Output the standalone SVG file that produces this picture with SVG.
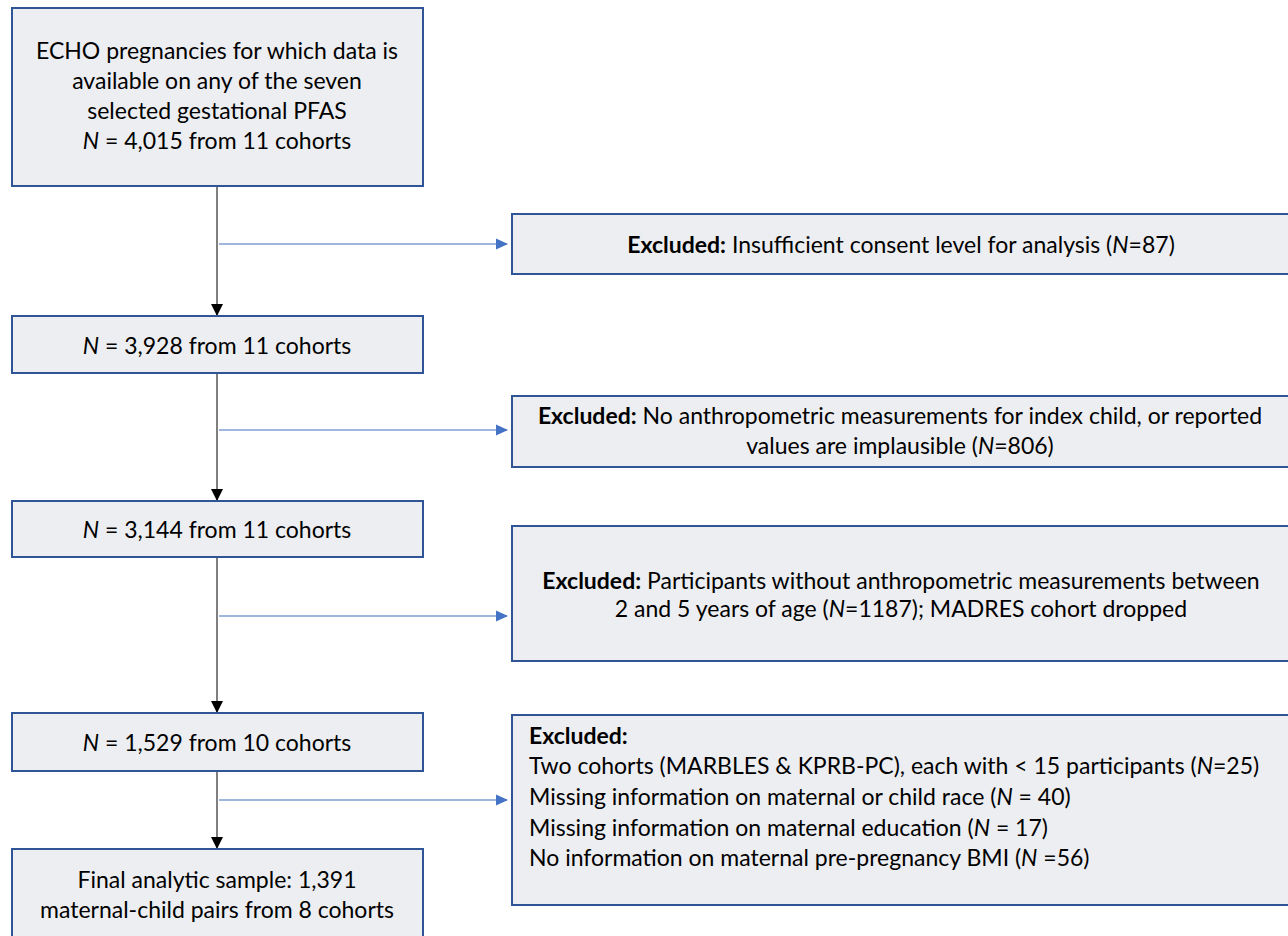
<svg xmlns="http://www.w3.org/2000/svg" width="1288" height="936" viewBox="0 0 1288 936">
<style>
.box{fill:#EDEEF1;stroke:#2F5597;stroke-width:2}
text{font-family:Lato,"Liberation Sans",sans-serif;font-size:23px;fill:#000}
.c{text-anchor:middle}
.b{font-weight:bold}
.v{stroke:#555;stroke-width:1.5;fill:none}
.h{stroke:#7F9FD3;stroke-width:1.5;fill:none}
</style>
<defs>
<marker id="ab" markerWidth="12" markerHeight="12" refX="11" refY="6" orient="auto" markerUnits="userSpaceOnUse"><path d="M0,0 L12,6 L0,12 Z" fill="#000"/></marker>
<marker id="au" markerWidth="12" markerHeight="12" refX="11" refY="6" orient="auto" markerUnits="userSpaceOnUse"><path d="M0,0.5 L12,6 L0,11.5 Z" fill="#4472C4"/></marker>
</defs>
<g id="connectors">
<line class="v" x1="217" y1="187" x2="217" y2="315" marker-end="url(#ab)"/>
<line class="v" x1="217" y1="374" x2="217" y2="500" marker-end="url(#ab)"/>
<line class="v" x1="217" y1="558" x2="217" y2="712" marker-end="url(#ab)"/>
<line class="v" x1="217" y1="772" x2="217" y2="848" marker-end="url(#ab)"/>
<line class="h" x1="219" y1="244" x2="507" y2="244" marker-end="url(#au)"/>
<line class="h" x1="219" y1="430" x2="507" y2="430" marker-end="url(#au)"/>
<line class="h" x1="219" y1="616" x2="507" y2="616" marker-end="url(#au)"/>
<line class="h" x1="219" y1="800" x2="507" y2="800" marker-end="url(#au)"/>
</g>
<g id="n1">
<rect class="box" x="12" y="8" width="411" height="178"/>
<text class="c" x="217" y="59">ECHO pregnancies for which data is</text>
<text class="c" x="217" y="89">available on any of the seven</text>
<text class="c" x="217" y="119">selected gestational PFAS</text>
<text class="c" x="217" y="149"><tspan font-style="italic">N</tspan> = 4,015 from 11 cohorts</text>
</g>
<g id="e1">
<rect class="box" x="512" y="214" width="780" height="60"/>
<text class="c" x="901" y="253"><tspan class="b">Excluded:</tspan> Insufficient consent level for analysis (<tspan font-style="italic">N</tspan>=87)</text>
</g>
<g id="n2">
<rect class="box" x="12" y="316" width="411" height="57"/>
<text class="c" x="217" y="354"><tspan font-style="italic">N</tspan> = 3,928 from 11 cohorts</text>
</g>
<g id="e2">
<rect class="box" x="512" y="396" width="780" height="71"/>
<text class="c" x="900" y="424"><tspan class="b">Excluded:</tspan> No anthropometric measurements for index child, or reported</text>
<text class="c" x="900" y="454">values are implausible (<tspan font-style="italic">N</tspan>=806)</text>
</g>
<g id="n3">
<rect class="box" x="12" y="501" width="411" height="56"/>
<text class="c" x="217" y="538"><tspan font-style="italic">N</tspan> = 3,144 from 11 cohorts</text>
</g>
<g id="e3">
<rect class="box" x="512" y="526" width="780" height="135"/>
<text class="c" x="901" y="589"><tspan class="b">Excluded:</tspan> Participants without anthropometric measurements between</text>
<text class="c" x="901" y="617">2 and 5 years of age (<tspan font-style="italic">N</tspan>=1187); MADRES cohort dropped</text>
</g>
<g id="n4">
<rect class="box" x="12" y="713" width="411" height="58"/>
<text class="c" x="217" y="751"><tspan font-style="italic">N</tspan> = 1,529 from 10 cohorts</text>
</g>
<g id="e4">
<rect class="box" x="512" y="715" width="780" height="190"/>
<text class="b" x="529" y="744">Excluded:</text>
<text x="529" y="774">Two cohorts (MARBLES &amp; KPRB-PC), each with &lt; 15 participants (<tspan font-style="italic">N</tspan>=25)</text>
<text x="529" y="805">Missing information on maternal or child race (<tspan font-style="italic">N</tspan> = 40)</text>
<text x="529" y="836">Missing information on maternal education (<tspan font-style="italic">N</tspan> = 17)</text>
<text x="529" y="866">No information on maternal pre-pregnancy BMI (<tspan font-style="italic">N</tspan> =56)</text>
</g>
<g id="n5">
<rect class="box" x="12" y="849" width="411" height="100"/>
<text class="c" x="217" y="888">Final analytic sample: 1,391</text>
<text class="c" x="217" y="918">maternal-child pairs from 8 cohorts</text>
</g>
</svg>
